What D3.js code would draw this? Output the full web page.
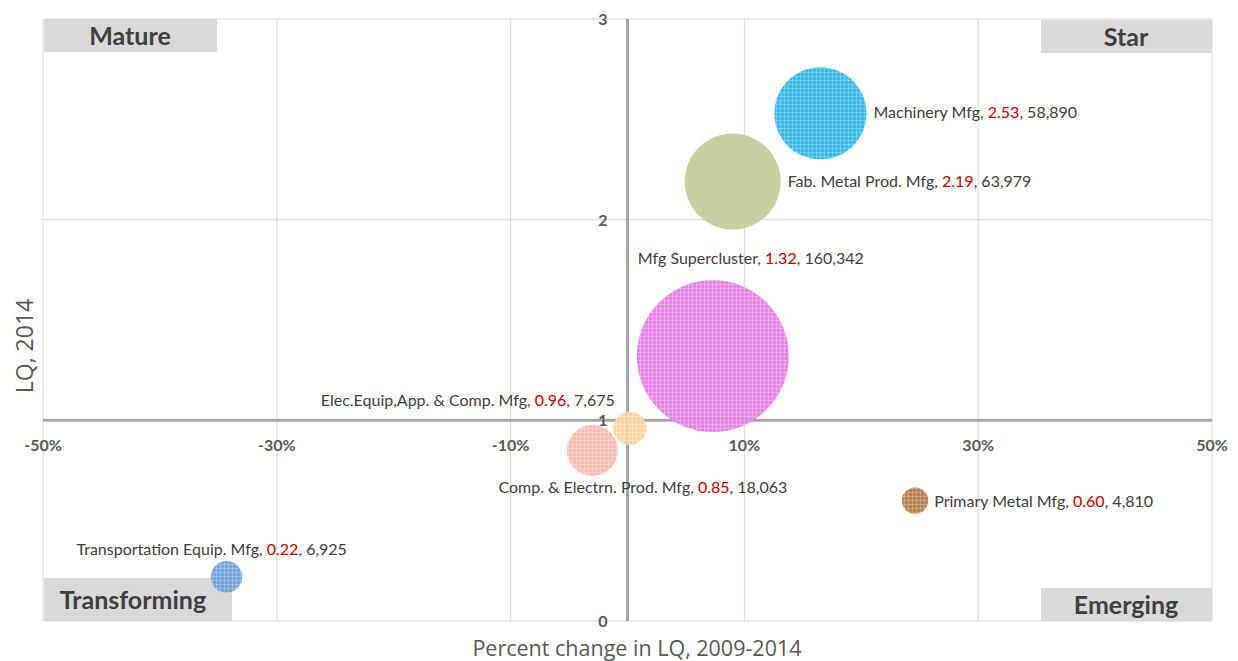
<!DOCTYPE html>
<html>
<head>
<meta charset="utf-8">
<script src="https://cdn.jsdelivr.net/npm/d3@7/dist/d3.min.js"></script>
<style>
  html, body { margin: 0; padding: 0; background: #ffffff; }
  svg { display: block; }
</style>
</head>
<body>
<svg id="chart" width="1238" height="661"></svg>
<script>
// ---- Data ----
const names = ["Machinery Mfg", "Fab. Metal Prod. Mfg", "Mfg Supercluster", "Elec.Equip,App. & Comp. Mfg", "Comp. & Electrn. Prod. Mfg", "Primary Metal Mfg", "Transportation Equip. Mfg"];
const pctChange = [16.5, 9.0, 7.3, 0.2, -3.0, 24.6, -34.3];
const lq2014 = [2.53, 2.19, 1.32, 0.96, 0.85, 0.60, 0.22];
const employment = [58890, 63979, 160342, 7675, 18063, 4810, 6925];
const xTicks = [-50, -30, -10, 10, 30, 50];
const yTicks = [0, 1, 2, 3];
const quadrants = ["Mature", "Star", "Transforming", "Emerging"];

// ---- Styles ----
const colors = ["#2cb5ea", "#c1cc98", "#e47ce4", "#fbd49c", "#f9b8b0", "#b27a45", "#6f9fd6"];
const textured = [true, false, true, true, true, true, true];
// label placement: [mode, dx, dy] relative to bubble
const labelPlace = [
  ["right", 7, 5], ["right", 7, 5], ["abs", -75, -92], ["endAbove", -15, -22],
  ["abs", -94, 43], ["right", 6, 6], ["abs", -150, -22]
];
const quadBoxes = [
  {x: 44, y: 19, w: 173, h: 33, tx: 130, ty: 45},
  {x: 1041, y: 20, w: 171, h: 33, tx: 1126, ty: 46},
  {x: 44, y: 578, w: 188, h: 43, tx: 133, ty: 609},
  {x: 1041, y: 588, w: 171, h: 33, tx: 1126, ty: 614}
];

const svg = d3.select("#chart");
const x = d3.scaleLinear().domain([-50, 50]).range([43, 1212]);
const y = d3.scaleLinear().domain([0, 3]).range([621, 19]);
const r = d3.scaleSqrt().domain([0, d3.max(employment)]).range([0, 76]);

const data = names.map((n, i) => ({name: n, px: pctChange[i], lq: lq2014[i], emp: employment[i], color: colors[i], tex: textured[i], place: labelPlace[i]}));

// patterns
const defs = svg.append("defs");
data.forEach((d, i) => {
  if (!d.tex) return;
  const p = defs.append("pattern").attr("id", "pat" + i).attr("patternUnits", "userSpaceOnUse")
    .attr("width", 4).attr("height", 4);
  p.append("rect").attr("width", 4).attr("height", 4).attr("fill", d.color);
  p.append("path").attr("d", "M0,0.5H4M0.5,0V4").attr("stroke", "#ffffff").attr("stroke-opacity", 0.22).attr("stroke-width", 1);
  p.append("rect").attr("x", 2).attr("y", 2).attr("width", 1).attr("height", 1).attr("fill", "#000").attr("fill-opacity", 0.08);
});

// gridlines
const grid = svg.append("g");
grid.selectAll("line.vx").data(xTicks).join("line")
  .attr("x1", d => x(d)).attr("x2", d => x(d)).attr("y1", y(3)).attr("y2", y(0))
  .attr("stroke", "#d9d9d9").attr("stroke-width", 1);
grid.selectAll("line.hy").data(yTicks).join("line")
  .attr("x1", x(-50)).attr("x2", x(50)).attr("y1", d => y(d)).attr("y2", d => y(d))
  .attr("stroke", "#d9d9d9").attr("stroke-width", 1);

// quadrant boxes
const qg = svg.append("g");
quadBoxes.forEach((b, i) => {
  qg.append("rect").attr("x", b.x).attr("y", b.y).attr("width", b.w).attr("height", b.h).attr("fill", "#d9d9d9");
  qg.append("text").attr("x", b.tx).attr("y", b.ty).attr("text-anchor", "middle")
    .attr("font-family", "Lato, 'Open Sans', sans-serif").attr("font-weight", "bold").attr("font-size", 25)
    .attr("fill", "#404040").text(quadrants[i]);
});

// axes lines
svg.append("line").attr("x1", x(0)).attr("x2", x(0)).attr("y1", y(3)).attr("y2", y(0))
  .attr("stroke", "#a6a6a6").attr("stroke-width", 3);
svg.append("line").attr("x1", x(-50)).attr("x2", x(50)).attr("y1", y(1)).attr("y2", y(1))
  .attr("stroke", "#a6a6a6").attr("stroke-width", 3);

// bubbles
svg.append("g").selectAll("circle").data(data).join("circle")
  .attr("cx", d => x(d.px)).attr("cy", d => y(d.lq)).attr("r", d => r(d.emp))
  .attr("fill", (d, i) => d.tex ? "url(#pat" + i + ")" : d.color)
  .attr("fill-opacity", 0.92);

// tick labels
const tickFont = "Lato, 'Open Sans', sans-serif";
svg.append("g").selectAll("text").data(xTicks).join("text")
  .attr("x", d => x(d)).attr("y", y(1) + 31).attr("text-anchor", "middle")
  .attr("font-family", tickFont).attr("font-weight", "bold").attr("font-size", 16).attr("fill", "#595959")
  .text(d => d + "%");
svg.append("g").selectAll("text").data(yTicks).join("text")
  .attr("x", x(0) - 20).attr("y", d => y(d) + 6).attr("text-anchor", "end")
  .attr("font-family", tickFont).attr("font-weight", "bold").attr("font-size", 16).attr("fill", "#595959")
  .text(d => d);

// axis titles
svg.append("text").attr("x", 637).attr("y", 656).attr("text-anchor", "middle")
  .attr("font-family", "'Open Sans', sans-serif").attr("font-size", 21.5).attr("fill", "#595959")
  .text("Percent change in LQ, 2009-2014");
svg.append("text").attr("transform", "translate(33,346) rotate(-90)").attr("text-anchor", "middle")
  .attr("font-family", "'Open Sans', sans-serif").attr("font-size", 23).attr("fill", "#595959")
  .text("LQ, 2014");

// bubble labels
const lg = svg.append("g").attr("font-family", "Lato, 'Open Sans', sans-serif").attr("font-size", 16).attr("fill", "#404040");
data.forEach(d => {
  const cx = x(d.px), cy = y(d.lq), rr = r(d.emp);
  const [mode, dx, dy] = d.place;
  let tx, ty, anchor = "start";
  if (mode === "right") { tx = cx + rr + dx; ty = cy + dy; }
  else if (mode === "endAbove") { tx = cx + dx; ty = cy + dy; anchor = "end"; }
  else { tx = cx + dx; ty = cy + dy; }
  const t = lg.append("text").attr("x", tx).attr("y", ty).attr("text-anchor", anchor);
  t.append("tspan").text(d.name + ", ");
  t.append("tspan").attr("fill", "#c00000").text(d.lq.toFixed(2));
  t.append("tspan").text(", " + d3.format(",")(d.emp));
});
</script>
</body>
</html>
